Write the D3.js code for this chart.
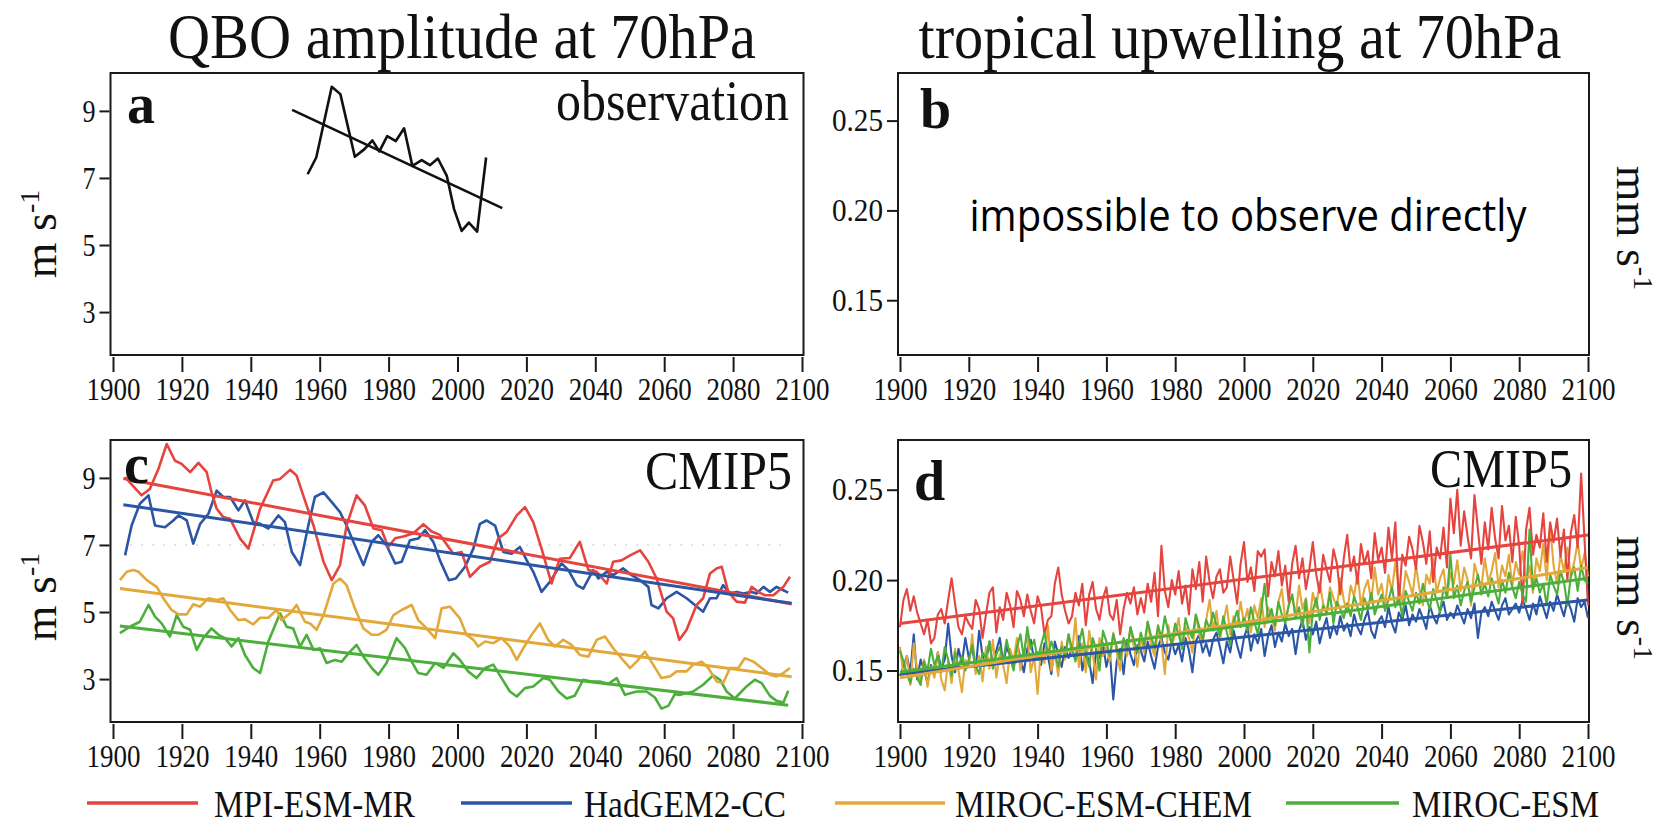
<!DOCTYPE html>
<html>
<head>
<meta charset="utf-8">
<script src="https://cdn.jsdelivr.net/npm/d3@7"></script>
<style>
    body { margin: 0; background: #fff; }
</style>
</head>
<body>
<svg id="SVG_CONTAINER" width="1667" height="824" font-family="Liberation Serif, Times New Roman, serif"></svg>
<script>
// ---------- DATA ----------
const yearTicks = [1900, 1920, 1940, 1960, 1980, 2000, 2020, 2040, 2060, 2080, 2100];
const ampTicks = [3, 5, 7, 9];
const upwTicks = [0.15, 0.20, 0.25];

const modelNames = ["MPI-ESM-MR", "HadGEM2-CC", "MIROC-ESM-CHEM", "MIROC-ESM"];
const modelColours = ["#e5443f", "#2b55a5", "#e2a93a", "#4caf3b"];

// panel a: observed QBO amplitude [year, m/s]
const obsAmp = [[1956.5, 7.11], [1959, 7.61], [1963.5, 9.72], [1966, 9.50], [1970.2, 7.63], [1973, 7.86],
    [1975.3, 8.12], [1977.3, 7.79], [1979.6, 8.25], [1982.1, 8.10], [1984.5, 8.48], [1986.9, 7.36],
    [1989.6, 7.53], [1992, 7.38], [1994.3, 7.58], [1996.9, 7.06], [1999, 6.07], [2001.2, 5.42],
    [2003.3, 5.67], [2005.7, 5.40], [2008.3, 7.61]];
const obsTrend = [[1952, 9.03], [2013, 6.1]];

// panel c: modelled QBO amplitude [year, m/s]
const mpiAmp = [[1903.5, 9.02], [1908.3, 8.48], [1910.7, 8.67], [1913.2, 9.27], [1915.6, 10.01], [1918, 9.51],
    [1919.9, 9.42], [1922.4, 9.17], [1924.8, 9.45], [1927.2, 9.17], [1928.6, 8.57], [1930.1, 8.08],
    [1932, 7.83], [1934, 7.78], [1936.9, 7.19], [1939.3, 6.89], [1942.7, 8.08], [1946.5, 8.92],
    [1948.5, 8.97], [1951.4, 9.24], [1953.3, 9.07], [1956.2, 8.18], [1958.2, 7.58], [1961.1, 6.50],
    [1963.5, 5.95], [1965.9, 6.40], [1967.8, 7.58], [1970.7, 8.48], [1973.1, 8.18], [1975.6, 7.49],
    [1978, 7.44], [1979.9, 6.94], [1981.9, 7.20], [1984.3, 7.25], [1987.2, 7.35], [1990.1, 7.62],
    [1992.5, 7.40], [1994.9, 7.30], [1998.8, 6.74], [2001.2, 6.79], [2003.6, 6.05], [2006.5, 6.35],
    [2009.4, 6.50], [2011.8, 7.19], [2014.3, 7.39], [2017.2, 7.88], [2019.6, 8.13], [2022, 7.68],
    [2024.4, 6.89], [2027.3, 5.85], [2029.7, 6.59], [2032.6, 6.61], [2035.5, 7.09], [2038, 6.25],
    [2040.4, 6.20], [2043.3, 5.85], [2045.2, 6.50], [2047.6, 6.54], [2050.1, 6.69], [2053, 6.84],
    [2055.4, 6.50], [2057.8, 6.00], [2060.7, 5.01], [2062.6, 4.81], [2064.4, 4.17], [2066.5, 4.47],
    [2069.4, 5.21], [2071.3, 5.41], [2073.3, 6.15], [2075.2, 6.30], [2076.7, 6.35], [2078.6, 5.60],
    [2081, 5.31], [2083.4, 5.28], [2085.4, 5.75], [2087.3, 5.60], [2089.2, 5.50], [2091.7, 5.50],
    [2094.6, 5.75], [2096.5, 6.05]];
const hadAmp = [[1903.5, 6.69], [1905.4, 7.58], [1907.8, 8.23], [1910.3, 8.48], [1912.2, 7.58], [1915.1, 7.53],
    [1917.5, 7.73], [1919, 7.88], [1921.4, 7.73], [1923.3, 7.04], [1925.3, 7.63], [1927.7, 7.93],
    [1930.1, 8.62], [1932, 8.43], [1934, 8.43], [1936.4, 8.03], [1938.3, 8.33], [1940.7, 7.68],
    [1942.7, 7.63], [1945.1, 7.49], [1948, 7.88], [1949.9, 7.68], [1951.9, 6.79], [1954.3, 6.40],
    [1956.7, 7.58], [1958.6, 8.43], [1961.1, 8.57], [1963.5, 8.28], [1965.9, 7.98], [1967.8, 7.58],
    [1970.2, 6.99], [1972.7, 6.40], [1975.1, 7.09], [1977, 7.29], [1979.4, 6.99], [1981.9, 6.45],
    [1983.8, 6.50], [1986.2, 7.14], [1988.6, 7.19], [1990.6, 7.44], [1993, 7.09], [1994.9, 6.54],
    [1997.5, 5.95], [1999.5, 6.00], [2002.2, 6.35], [2004.6, 6.89], [2006.5, 7.63], [2008.4, 7.73],
    [2010.9, 7.58], [2013.3, 6.79], [2015.7, 6.74], [2018.1, 6.94], [2020.1, 6.54], [2022, 6.20],
    [2024.4, 5.60], [2026.8, 5.90], [2030.2, 6.45], [2032.2, 6.25], [2034.6, 5.80], [2036.5, 5.70],
    [2039.4, 6.25], [2040.9, 6.00], [2043.3, 6.20], [2045.2, 6.10], [2048.1, 6.30], [2050.5, 6.10],
    [2053, 5.95], [2055.4, 5.75], [2056.3, 5.21], [2058.3, 5.11], [2060.7, 5.41], [2063.6, 5.60],
    [2066.5, 5.41], [2068.9, 5.21], [2071.3, 5.01], [2073.3, 5.41], [2075.2, 5.41], [2077.1, 5.80],
    [2079.1, 5.55], [2081, 5.60], [2083, 5.55], [2085.4, 5.60], [2086.8, 5.55], [2088.8, 5.75],
    [2090.7, 5.60], [2092.6, 5.75], [2094.6, 5.65], [2096, 5.58]];
const chemAmp = [[1902, 5.95], [1904, 6.20], [1905.9, 6.25], [1907.4, 6.20], [1909.8, 5.95], [1912.7, 5.75],
    [1914.6, 5.41], [1917, 5.06], [1919, 4.93], [1921.4, 4.93], [1923.3, 5.23], [1925.3, 5.16],
    [1927.7, 5.41], [1930.1, 5.36], [1932, 5.41], [1934, 5.06], [1936.4, 4.76], [1938.3, 4.78],
    [1940.7, 4.63], [1942.7, 4.83], [1945.1, 4.83], [1947.5, 5.06], [1948.9, 4.76], [1951.4, 4.96],
    [1953.3, 5.21], [1955.7, 4.71], [1957.2, 4.66], [1959.1, 4.47], [1961.1, 4.91], [1964, 5.85],
    [1965.9, 6.00], [1967.8, 5.80], [1970.2, 5.11], [1972.7, 4.51], [1975.1, 4.32], [1977, 4.32],
    [1979.4, 4.47], [1981.4, 4.91], [1983.8, 5.06], [1986.7, 5.21], [1988.6, 4.76], [1990.6, 4.56],
    [1993.5, 4.22], [1995.4, 5.11], [1997.8, 5.16], [2000.7, 4.81], [2002.6, 4.32], [2004.6, 4.17],
    [2006, 3.97], [2008, 4.12], [2010.4, 4.07], [2012.8, 4.22], [2015.2, 3.97], [2017.2, 3.57],
    [2019.1, 3.92], [2021.5, 4.32], [2023.9, 4.66], [2026.3, 4.17], [2028.3, 3.97], [2030.7, 4.17],
    [2033.1, 4.02], [2035.5, 3.72], [2038, 3.67], [2040.4, 4.17], [2042.8, 4.27], [2045.2, 3.92],
    [2047.6, 3.62], [2050.1, 3.33], [2052, 3.52], [2054.4, 3.82], [2056.8, 3.43], [2059.2, 3.03],
    [2061.7, 3.08], [2063.6, 3.23], [2066.5, 3.23], [2068.4, 3.43], [2070.9, 3.52], [2072.8, 3.33],
    [2075.2, 2.93], [2077.1, 2.88], [2079.1, 3.33], [2081.5, 3.33], [2083.4, 3.62], [2085.9, 3.52],
    [2088.3, 3.33], [2090.7, 3.13], [2092.6, 3.08], [2094.6, 3.18], [2096.5, 3.33]];
const esmAmp = [[1902, 4.37], [1904.9, 4.56], [1907.8, 4.71], [1910.3, 5.21], [1912.2, 4.86], [1914.1, 4.66],
    [1916.5, 4.27], [1918.5, 4.91], [1920.4, 4.56], [1922.4, 4.47], [1924.3, 3.87], [1926.2, 4.22],
    [1928.6, 4.51], [1930.6, 4.32], [1932.5, 4.22], [1934.4, 3.97], [1936.4, 4.22], [1938.3, 3.72],
    [1940.7, 3.33], [1942.7, 3.18], [1945.1, 4.12], [1948.5, 4.96], [1950.4, 4.56], [1952.3, 4.51],
    [1954.3, 3.97], [1956.2, 4.32], [1958.2, 3.87], [1960.1, 3.92], [1962, 3.48], [1964.4, 3.57],
    [1966.4, 3.52], [1968.8, 3.82], [1970.7, 4.02], [1972.7, 3.67], [1975.1, 3.33], [1977, 3.13],
    [1979.4, 3.48], [1982.3, 4.22], [1984.8, 3.92], [1986.7, 3.52], [1988.6, 3.18], [1991, 3.13],
    [1993.5, 3.48], [1995.9, 3.33], [1998.8, 3.77], [2000.7, 3.57], [2003.1, 3.23], [2005.5, 3.03],
    [2008, 3.33], [2010.4, 3.43], [2012.8, 3.03], [2015.2, 2.63], [2017.2, 2.48], [2019.6, 2.73],
    [2022, 2.78], [2024.9, 3.03], [2026.8, 2.98], [2029.3, 2.63], [2031.7, 2.42], [2034, 2.50],
    [2036.5, 2.98], [2038.9, 2.93], [2041.3, 2.93], [2043.7, 2.85], [2046.2, 3.03], [2048.6, 2.53],
    [2052, 2.63], [2054.9, 2.63], [2057.3, 2.45], [2059.2, 2.12], [2061.2, 2.20], [2063.1, 2.55],
    [2064.6, 2.53], [2068.4, 2.63], [2071.3, 2.83], [2074.2, 3.11], [2076.2, 2.98], [2078.1, 2.63],
    [2080.5, 2.42], [2083.9, 2.78], [2086.3, 2.98], [2088.3, 2.88], [2090.7, 2.50], [2092.6, 2.35],
    [2094.6, 2.30], [2096, 2.65]];
const ampTrends = [
    [[1903, 8.98], [2097, 5.24]],
    [[1903, 8.20], [2097, 5.26]],
    [[1902, 5.70], [2097, 3.07]],
    [[1902, 4.58], [2096, 2.22]]
];

// panel d: tropical upwelling, one value per year from 1900 to 2100 [mm/s]
const upwStartYear = 1900;
const mpiUpw = [
    0.174, 0.189, 0.195, 0.183, 0.191, 0.182, 0.176, 0.170, 0.178, 0.165,
    0.168, 0.181, 0.184, 0.176, 0.189, 0.201, 0.187, 0.174, 0.170, 0.180,
    0.176, 0.173, 0.189, 0.184, 0.168, 0.181, 0.193, 0.196, 0.171, 0.185,
    0.178, 0.193, 0.186, 0.174, 0.194, 0.189, 0.180, 0.192, 0.183, 0.176,
    0.191, 0.185, 0.170, 0.178, 0.180, 0.198, 0.207, 0.192, 0.183, 0.176,
    0.180, 0.193, 0.186, 0.198, 0.175, 0.192, 0.199, 0.184, 0.178, 0.190,
    0.196, 0.181, 0.178, 0.189, 0.170, 0.184, 0.193, 0.187, 0.196, 0.181,
    0.190, 0.182, 0.198, 0.188, 0.204, 0.180, 0.219, 0.194, 0.185, 0.200,
    0.192, 0.205, 0.187, 0.197, 0.181, 0.206, 0.195, 0.210, 0.188, 0.213,
    0.199, 0.190, 0.202, 0.206, 0.193, 0.196, 0.213, 0.200, 0.187, 0.209,
    0.221, 0.199, 0.207, 0.194, 0.216, 0.213, 0.217, 0.191, 0.210, 0.202,
    0.216, 0.197, 0.208, 0.188, 0.209, 0.219, 0.201, 0.212, 0.195, 0.206,
    0.221, 0.203, 0.193, 0.214, 0.206, 0.199, 0.217, 0.209, 0.192, 0.212,
    0.225, 0.205, 0.213, 0.198, 0.220, 0.209, 0.216, 0.201, 0.226, 0.211,
    0.218, 0.204, 0.229, 0.212, 0.232, 0.187, 0.214, 0.208, 0.224, 0.217,
    0.206, 0.230, 0.221, 0.209, 0.227, 0.199, 0.218, 0.212, 0.229, 0.207,
    0.245, 0.226, 0.250, 0.219, 0.238, 0.224, 0.212, 0.247, 0.228, 0.209,
    0.232, 0.217, 0.240, 0.223, 0.212, 0.241, 0.222, 0.230, 0.210, 0.235,
    0.219, 0.187, 0.228, 0.240, 0.214, 0.225, 0.218, 0.237, 0.210, 0.232,
    0.221, 0.234, 0.213, 0.228, 0.200, 0.226, 0.236, 0.218, 0.259, 0.222,
    0.186];
const hadUpw = [
    0.147, 0.152, 0.158, 0.149, 0.170, 0.145, 0.156, 0.150, 0.143, 0.153,
    0.148, 0.160, 0.151, 0.156, 0.176, 0.158, 0.149, 0.162, 0.154, 0.168,
    0.157, 0.163, 0.150, 0.172, 0.158, 0.155, 0.166, 0.152, 0.161, 0.168,
    0.154, 0.163, 0.158, 0.151, 0.165, 0.157, 0.149, 0.162, 0.167, 0.155,
    0.160, 0.153, 0.165, 0.158, 0.148, 0.166, 0.159, 0.152, 0.163, 0.157,
    0.162, 0.156, 0.169, 0.150, 0.160, 0.155, 0.143, 0.161, 0.157, 0.165,
    0.152, 0.160, 0.134, 0.155, 0.162, 0.148, 0.167, 0.159, 0.153, 0.164,
    0.161, 0.155, 0.166, 0.158, 0.151, 0.163, 0.168, 0.160, 0.156, 0.166,
    0.159, 0.164, 0.155, 0.168, 0.161, 0.149, 0.166, 0.170, 0.160, 0.165,
    0.158, 0.167, 0.171, 0.163, 0.154, 0.166, 0.160, 0.172, 0.164, 0.157,
    0.168, 0.174, 0.161, 0.170, 0.165, 0.173, 0.158, 0.169, 0.175, 0.163,
    0.171, 0.166, 0.176, 0.169, 0.173, 0.159, 0.172, 0.178, 0.167, 0.174,
    0.170, 0.177, 0.165, 0.173, 0.179, 0.168, 0.175, 0.170, 0.180, 0.172,
    0.176, 0.169, 0.181, 0.174, 0.170, 0.178, 0.183, 0.172, 0.168, 0.177,
    0.180, 0.174, 0.185, 0.176, 0.171, 0.182, 0.178, 0.186, 0.175, 0.181,
    0.177, 0.184, 0.179, 0.173, 0.186, 0.180, 0.176, 0.183, 0.188, 0.178,
    0.182, 0.179, 0.186, 0.181, 0.176, 0.184, 0.179, 0.187, 0.168, 0.182,
    0.185, 0.180, 0.188, 0.183, 0.178, 0.186, 0.190, 0.181, 0.184, 0.187,
    0.182, 0.189, 0.184, 0.178, 0.187, 0.181, 0.191, 0.185, 0.179, 0.188,
    0.183, 0.192, 0.186, 0.180, 0.189, 0.184, 0.177, 0.190, 0.185, 0.188,
    0.179];
const chemUpw = [
    0.163, 0.147, 0.158, 0.142, 0.165, 0.150, 0.144, 0.156, 0.141, 0.152,
    0.146, 0.160, 0.145, 0.139, 0.155, 0.143, 0.162, 0.150, 0.138, 0.156,
    0.152, 0.170, 0.148, 0.158, 0.144, 0.163, 0.151, 0.167, 0.146, 0.159,
    0.153, 0.143, 0.162, 0.155, 0.168, 0.150, 0.160, 0.171, 0.149, 0.158,
    0.137, 0.163, 0.154, 0.175, 0.150, 0.160, 0.147, 0.166, 0.156, 0.170,
    0.159, 0.179, 0.152, 0.165, 0.149, 0.172, 0.160, 0.145, 0.168, 0.158,
    0.163, 0.155, 0.171, 0.160, 0.150, 0.166, 0.158, 0.174, 0.163, 0.152,
    0.168, 0.160, 0.177, 0.164, 0.158, 0.172, 0.166, 0.148, 0.175, 0.163,
    0.170, 0.179, 0.162, 0.174, 0.168, 0.160, 0.181, 0.170, 0.165, 0.178,
    0.189, 0.172, 0.183, 0.167, 0.177, 0.186, 0.170, 0.180, 0.175, 0.188,
    0.176, 0.184, 0.171, 0.186, 0.179, 0.190, 0.174, 0.185, 0.180, 0.172,
    0.188, 0.195, 0.178, 0.186, 0.192, 0.180, 0.197, 0.184, 0.190, 0.176,
    0.193, 0.185, 0.199, 0.187, 0.181, 0.196, 0.190, 0.185, 0.201, 0.189,
    0.182, 0.197, 0.191, 0.204, 0.186, 0.195, 0.200, 0.188, 0.207, 0.192,
    0.198, 0.185, 0.203, 0.194, 0.210, 0.196, 0.188, 0.205, 0.199, 0.192,
    0.208, 0.195, 0.186, 0.203, 0.198, 0.212, 0.193, 0.201, 0.206, 0.190,
    0.204, 0.198, 0.211, 0.194, 0.207, 0.200, 0.186, 0.209, 0.202, 0.196,
    0.212, 0.199, 0.205, 0.215, 0.196, 0.208, 0.202, 0.214, 0.197, 0.210,
    0.203, 0.216, 0.199, 0.208, 0.193, 0.212, 0.205, 0.220, 0.200, 0.230,
    0.208, 0.198, 0.214, 0.205, 0.218, 0.202, 0.210, 0.221, 0.206, 0.215,
    0.202];
const esmUpw = [
    0.161, 0.155, 0.148, 0.143, 0.151, 0.146, 0.142, 0.155, 0.150, 0.162,
    0.153, 0.158, 0.149, 0.163, 0.156, 0.147, 0.160, 0.152, 0.158, 0.150,
    0.156, 0.164, 0.153, 0.148, 0.160, 0.157, 0.166, 0.151, 0.159, 0.163,
    0.155, 0.167, 0.158, 0.150, 0.163, 0.170, 0.157, 0.174, 0.162, 0.167,
    0.156, 0.164, 0.171, 0.159, 0.166, 0.160, 0.152, 0.163, 0.158, 0.170,
    0.162, 0.155, 0.165, 0.173, 0.160, 0.152, 0.168, 0.162, 0.150, 0.172,
    0.166, 0.158, 0.170, 0.163, 0.156, 0.168, 0.161, 0.174, 0.167, 0.160,
    0.171, 0.164, 0.177, 0.169, 0.162, 0.175, 0.168, 0.180, 0.171, 0.165,
    0.176, 0.170, 0.162, 0.179, 0.172, 0.168, 0.181, 0.174, 0.167, 0.178,
    0.173, 0.182, 0.175, 0.169, 0.180, 0.171, 0.164, 0.177, 0.183, 0.174,
    0.179, 0.172, 0.185, 0.177, 0.170, 0.183, 0.198, 0.178, 0.184, 0.175,
    0.188, 0.181, 0.176, 0.186, 0.192, 0.179, 0.185, 0.174, 0.189, 0.160,
    0.183, 0.190, 0.178, 0.186, 0.182, 0.193, 0.176, 0.188, 0.184, 0.179,
    0.187, 0.180, 0.191, 0.185, 0.178, 0.190, 0.184, 0.193, 0.181, 0.187,
    0.192, 0.183, 0.189, 0.196, 0.185, 0.191, 0.180, 0.194, 0.188, 0.183,
    0.193, 0.187, 0.198, 0.190, 0.184, 0.195, 0.189, 0.182, 0.196, 0.191,
    0.214, 0.190, 0.197, 0.186, 0.194, 0.199, 0.188, 0.196, 0.203, 0.192,
    0.198, 0.191, 0.201, 0.194, 0.187, 0.200, 0.193, 0.204, 0.196, 0.190,
    0.199, 0.192, 0.188, 0.228, 0.195, 0.201, 0.193, 0.198, 0.186, 0.203,
    0.197, 0.192, 0.205, 0.199, 0.186, 0.202, 0.207, 0.194, 0.208, 0.200,
    0.198];
const upwTrends = [
    [[1900, 0.176], [2100, 0.225]],
    [[1900, 0.148], [2100, 0.189]],
    [[1900, 0.146], [2100, 0.207]],
    [[1900, 0.149], [2100, 0.201]]
];

// ---------- LAYOUT ----------
const SERIF = "Liberation Serif, Times New Roman, serif";
const LEFT_BOX = {"LEFT": 110.5, "RIGHT": 803.5};
const RIGHT_BOX = {"LEFT": 898, "RIGHT": 1589};
const TOP_ROW = {"TOP": 73, "BOTTOM": 355};
const BOTTOM_ROW = {"TOP": 440, "BOTTOM": 722};

window.onload = function () {
    let svg = d3.select("#SVG_CONTAINER");

    //** TITLES *****************************************
    serifText(svg, "QBO amplitude at 70hPa", 462, 58, 63, "middle", 588);
    serifText(svg, "tropical upwelling at 70hPa", 1240, 58, 63, "middle", 643);

    //** PANELS *****************************************
    let ampDomain = [1.72, 10.13];
    let upwDomainB = [0.1195, 0.2765];
    let upwDomainD = [0.1215, 0.2775];

    let a = panel(svg, LEFT_BOX, TOP_ROW, [113, 802], ampDomain, ampTicks, d3.format("d"), 13);
    let b = panel(svg, RIGHT_BOX, TOP_ROW, [900, 1588], upwDomainB, upwTicks, d3.format(".2f"), 51);
    let c = panel(svg, LEFT_BOX, BOTTOM_ROW, [113, 802], ampDomain, ampTicks, d3.format("d"), 13);
    let d = panel(svg, RIGHT_BOX, BOTTOM_ROW, [900, 1588], upwDomainD, upwTicks, d3.format(".2f"), 51);

    //panel a: observation
    let lineA = d3.line().x(p => a.x(p[0])).y(p => a.y(p[1]));
    a.g.append("path").attr("d", lineA(obsAmp))
        .attr("fill", "none").attr("stroke", "#111").attr("stroke-width", 2.6).attr("stroke-linejoin", "round");
    a.g.append("path").attr("d", lineA(obsTrend))
        .attr("fill", "none").attr("stroke", "#111").attr("stroke-width", 2.6);

    //panel c: faint grid line at 7
    c.g.append("line")
        .attr("x1", c.x(1905)).attr("x2", c.x(2094))
        .attr("y1", c.y(7)).attr("y2", c.y(7))
        .attr("stroke", "#d8d8d8").attr("stroke-width", 1.5).attr("stroke-dasharray", "2,9");

    let lineC = d3.line().x(p => c.x(p[0])).y(p => c.y(p[1]));
    let ampSeries = [mpiAmp, hadAmp, chemAmp, esmAmp];
    for (let i = ampSeries.length - 1; i >= 0; i--) {
        c.g.append("path").attr("d", lineC(ampSeries[i]))
            .attr("fill", "none").attr("stroke", modelColours[i]).attr("stroke-width", 2.6).attr("stroke-linejoin", "round");
    }
    for (let i = 0; i < ampTrends.length; i++) {
        c.g.append("path").attr("d", lineC(ampTrends[i]))
            .attr("fill", "none").attr("stroke", modelColours[i]).attr("stroke-width", 3);
    }

    //panel d: annual upwelling
    let lineD = d3.line().x((v, i) => d.x(upwStartYear + i)).y(v => d.y(v));
    let lineDT = d3.line().x(p => d.x(p[0])).y(p => d.y(p[1]));
    let upwSeries = [hadUpw, chemUpw, mpiUpw, esmUpw];
    let upwColour = [modelColours[1], modelColours[2], modelColours[0], modelColours[3]];
    for (let i = 0; i < upwSeries.length; i++) {
        d.g.append("path").attr("d", lineD(upwSeries[i]))
            .attr("fill", "none").attr("stroke", upwColour[i]).attr("stroke-width", 2.1).attr("stroke-linejoin", "round");
    }
    for (let i = 0; i < upwTrends.length; i++) {
        d.g.append("path").attr("d", lineDT(upwTrends[i]))
            .attr("fill", "none").attr("stroke", modelColours[i]).attr("stroke-width", 3);
    }

    //** PANEL TEXT *****************************************
    letter(svg, "a", 127, 123);
    letter(svg, "b", 920, 128);
    letter(svg, "c", 124, 483);
    letter(svg, "d", 914, 500);

    serifText(svg, "observation", 789, 120, 56, "end", 233);
    serifText(svg, "CMIP5", 792, 489, 54, "end", 147);
    serifText(svg, "CMIP5", 1572, 487, 54, "end", 142);

    svg.append("text")
        .attr("x", 1248).attr("y", 231)
        .attr("text-anchor", "middle")
        .attr("textLength", 557).attr("lengthAdjust", "spacingAndGlyphs")
        .style("font-family", "'Open Sans', 'Noto Sans', sans-serif")
        .style("font-size", "44px")
        .text("impossible to observe directly");

    unitLabel(svg, 56, 234, -90, "m");
    unitLabel(svg, 56, 597, -90, "m");
    unitLabel(svg, 1617, 228, 90, "mm");
    unitLabel(svg, 1617, 598, 90, "mm");

    //** LEGEND *****************************************
    let legendLine = [[87, 198], [461, 572], [835, 945], [1286, 1399]];
    let legendText = [[214, 201], [584, 202], [955, 297], [1412, 187]];
    for (let i = 0; i < modelNames.length; i++) {
        svg.append("line")
            .attr("x1", legendLine[i][0]).attr("x2", legendLine[i][1])
            .attr("y1", 803).attr("y2", 803)
            .attr("stroke", modelColours[i]).attr("stroke-width", 3.5);
        serifText(svg, modelNames[i], legendText[i][0], 817, 38, "start", legendText[i][1]);
    }
};

/**
 * Draws one framed panel with its axes and returns its scales and group
 */
function panel(svg, box, row, xRange, yDomain, yTicks, yFormat, yLabelWidth) {
    let g = svg.append("g");

    let x = d3.scaleLinear().domain([1900, 2100]).range(xRange);
    let y = d3.scaleLinear().domain(yDomain).range([row.BOTTOM, row.TOP]);

    let xAxis = d3.axisBottom(x)
        .tickValues(yearTicks)
        .tickFormat(d3.format("d"))
        .tickSize(15)
        .tickPadding(5);
    let gx = g.append("g")
        .attr("transform", "translate(0," + (row.BOTTOM + 2) + ")")
        .call(xAxis);
    styleAxis(gx);
    gx.selectAll("text").attr("textLength", 54).attr("lengthAdjust", "spacingAndGlyphs");

    let yAxis = d3.axisLeft(y)
        .tickValues(yTicks)
        .tickFormat(yFormat)
        .tickSize(10)
        .tickPadding(4);
    let gy = g.append("g")
        .attr("transform", "translate(" + (box.LEFT - 1) + ",0)")
        .call(yAxis);
    styleAxis(gy);
    gy.selectAll("text").attr("textLength", yLabelWidth).attr("lengthAdjust", "spacingAndGlyphs");

    g.append("rect")
        .attr("x", box.LEFT).attr("y", row.TOP)
        .attr("width", box.RIGHT - box.LEFT)
        .attr("height", row.BOTTOM - row.TOP)
        .attr("fill", "none")
        .attr("stroke", "#1a1a1a")
        .attr("stroke-width", 2);

    return {"g": g, "x": x, "y": y};
}

function styleAxis(gAxis) {
    gAxis.attr("font-family", SERIF).attr("font-size", 32);
    gAxis.select(".domain").remove();
    gAxis.selectAll(".tick line").attr("stroke", "#1a1a1a").attr("stroke-width", 2);
    gAxis.selectAll(".tick text")
        .attr("fill", "#111")
        .style("font-family", SERIF)
        .style("font-size", "32px");
}

function serifText(svg, txt, x, y, size, anchor, width) {
    return svg.append("text")
        .attr("x", x).attr("y", y)
        .attr("text-anchor", anchor)
        .attr("textLength", width).attr("lengthAdjust", "spacingAndGlyphs")
        .style("font-family", SERIF)
        .style("font-size", size + "px")
        .style("fill", "#111")
        .text(txt);
}

function letter(svg, ch, x, y) {
    svg.append("text")
        .attr("x", x).attr("y", y)
        .style("font-family", SERIF)
        .style("font-size", "56px")
        .style("font-weight", "bold")
        .style("fill", "#111")
        .text(ch);
}

function unitLabel(svg, x, y, rot, unit) {
    let t = svg.append("text")
        .attr("transform", "translate(" + x + "," + y + ") rotate(" + rot + ")")
        .attr("text-anchor", "middle")
        .style("font-family", SERIF)
        .style("font-size", "46px")
        .style("fill", "#111");
    t.append("tspan").text(unit + " s");
    t.append("tspan").attr("dy", -17).style("font-size", "28px").text("-1");
}
</script>
</body>
</html>
